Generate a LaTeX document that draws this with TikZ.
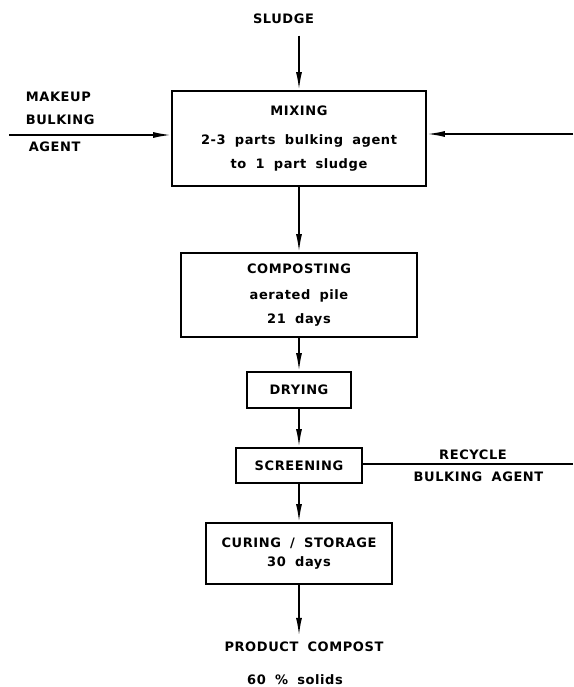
\documentclass[tikz,border=0pt]{standalone}
\usepackage{fontspec}
\setmainfont{DejaVu Sans}[LetterSpace=4.5,WordSpace=1.8]
\usetikzlibrary{arrows.meta}
\usetikzlibrary{positioning}

\begin{document}
\begin{tikzpicture}[x=1pt,y=-1pt,line width=1.7pt,
    font=\bfseries\fontsize{13}{15}\selectfont,
    >={Latex[length=18pt,width=6pt]}]
  \tikzstyle{box}=[draw=black, fill=white, inner sep=0pt, align=center]
  \useasboundingbox (0,0) rectangle (573,687);

  % process chain
  \node[box, minimum width=254pt, minimum height=95pt] (mix) at (299,138.5)
    {MIXING\\[14pt]2-3 parts bulking agent\\[9pt]to 1 part sludge};
  \node[box, minimum width=236pt, minimum height=84pt] (comp) at (299,295)
    {COMPOSTING\\[11pt]aerated pile\\[9pt]21 days};
  \node[box, minimum width=104pt, minimum height=36pt] (dry) at (299,390) {DRYING};
  \node[box, minimum width=126pt, minimum height=35pt] (scr) at (299,465.5) {SCREENING};
  \node[box, minimum width=186pt, minimum height=61pt] (cure) at (299,553.5)
    {CURING / STORAGE\\[4pt]30 days};

  % inputs and outputs
  \node (sludge) at (283.5,18.5) {SLUDGE};
  \node[anchor=south west, inner sep=0pt, align=left] (makeup) at (25,126) {MAKEUP\\[8.5pt]BULKING};
  \node[anchor=west, inner sep=0pt] (agent) at (28,147) {AGENT};
  \coordinate (mk) at (9,135);
  \coordinate (ret) at (573,134);
  \coordinate (rc) at (573,464);
  \node (recyc) at (473,455) {RECYCLE};
  \node (bagent) at (478.5,477) {BULKING AGENT};
  \node (prod) at (304,647) {PRODUCT COMPOST};
  \node (solids) at (295,680) {60 \% solids};

  \path[->]
    (mix) edge (comp)
    (comp) edge (dry)
    (dry) edge (scr)
    (scr) edge (cure);
  \draw[->] ([yshift=-8pt]sludge.south -| mix.north) -- (mix.north);
  \draw[->] (mk) -- (mix.west |- mk);
  \draw[->] (ret) -- (mix.east |- ret);
  \draw (scr.east |- rc) -- (rc);
  \draw[->] (cure.south) -- ([yshift=2pt]cure.south |- prod.north);
\end{tikzpicture}
\end{document}
